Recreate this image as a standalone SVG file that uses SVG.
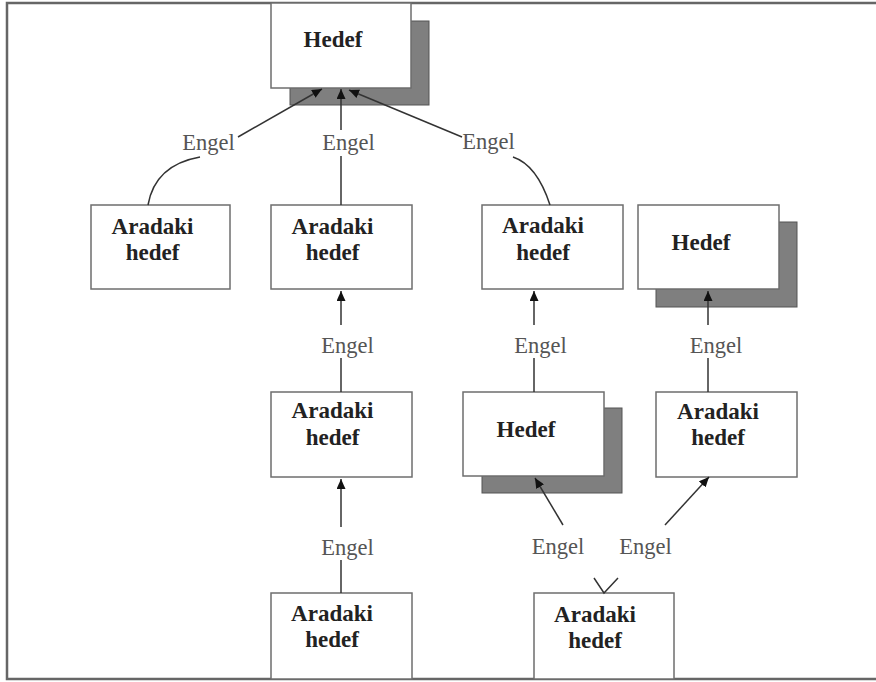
<svg xmlns="http://www.w3.org/2000/svg" width="876" height="682" viewBox="0 0 876 682">
<style>
.box{fill:#fff;stroke:#6e6e6e;stroke-width:1.5}
.shadow{fill:#7f7f7f;stroke:#555;stroke-width:1}
.nt{font-family:"Liberation Serif",serif;font-weight:bold;font-size:23px;fill:#222;text-anchor:middle}
.lbl{font-family:"Liberation Serif",serif;font-size:22.5px;fill:#555;text-anchor:middle}
.c{fill:none;stroke:#333;stroke-width:1.5}
</style>
<defs>
<marker id="ah" markerUnits="userSpaceOnUse" markerWidth="11" markerHeight="9" refX="10" refY="4.5" orient="auto">
<path d="M0,0 L10,4.5 L0,9 z" fill="#111"/>
</marker>
</defs>
<rect x="0" y="0" width="876" height="682" fill="#fff"/>
<g id="frame"><path d="M880,3 H7 V679 H880" fill="none" stroke="#666" stroke-width="2.5"/></g>
<g id="n1"><rect class="shadow" x="290" y="21" width="139" height="84"/><rect class="box" x="271" y="3" width="140" height="85"/><text class="nt" x="333" y="47">Hedef</text></g>
<g id="n2"><rect class="box" x="91" y="205" width="139" height="84"/><text class="nt" x="152.5" y="234">Aradaki</text><text class="nt" x="152.5" y="260">hedef</text></g>
<g id="n3"><rect class="box" x="271" y="205" width="141" height="84"/><text class="nt" x="332.5" y="234">Aradaki</text><text class="nt" x="332.5" y="260">hedef</text></g>
<g id="n4"><rect class="box" x="482" y="205" width="141" height="84"/><text class="nt" x="543" y="233">Aradaki</text><text class="nt" x="543" y="260">hedef</text></g>
<g id="n5"><rect class="shadow" x="656" y="222" width="141" height="85"/><rect class="box" x="638" y="205" width="141" height="84"/><text class="nt" x="701" y="250">Hedef</text></g>
<g id="n6"><rect class="box" x="271" y="392" width="141" height="85"/><text class="nt" x="332.5" y="418">Aradaki</text><text class="nt" x="332.5" y="445">hedef</text></g>
<g id="n7"><rect class="shadow" x="482" y="408" width="140" height="85"/><rect class="box" x="463" y="392" width="141" height="84"/><text class="nt" x="526" y="437">Hedef</text></g>
<g id="n8"><rect class="box" x="656" y="392" width="141" height="85"/><text class="nt" x="718" y="419">Aradaki</text><text class="nt" x="718" y="445">hedef</text></g>
<g id="n9"><rect class="box" x="271" y="593" width="141" height="86"/><text class="nt" x="332" y="621">Aradaki</text><text class="nt" x="332" y="647">hedef</text></g>
<g id="n10"><rect class="box" x="534" y="593" width="140" height="86"/><text class="nt" x="595" y="622">Aradaki</text><text class="nt" x="595" y="648">hedef</text></g>
<g id="connectors">
<path class="c" d="M148,205 Q155,165 200,157"/>
<line class="c" x1="238" y1="137" x2="322" y2="89" marker-end="url(#ah)"/>
<line class="c" x1="341" y1="205" x2="341" y2="156"/>
<line class="c" x1="341" y1="130" x2="341" y2="89" marker-end="url(#ah)"/>
<path class="c" d="M550,205 Q537,165 513,157"/>
<line class="c" x1="462" y1="137" x2="349" y2="90" marker-end="url(#ah)"/>
<line class="c" x1="341" y1="392" x2="341" y2="358"/>
<line class="c" x1="341" y1="325" x2="341" y2="291" marker-end="url(#ah)"/>
<line class="c" x1="534" y1="392" x2="534" y2="358"/>
<line class="c" x1="534" y1="325" x2="534" y2="291" marker-end="url(#ah)"/>
<line class="c" x1="708" y1="392" x2="708" y2="358"/>
<line class="c" x1="708" y1="325" x2="708" y2="291" marker-end="url(#ah)"/>
<line class="c" x1="341" y1="593" x2="341" y2="560"/>
<line class="c" x1="341" y1="527" x2="341" y2="479" marker-end="url(#ah)"/>
<line class="c" x1="563" y1="525" x2="535" y2="478" marker-end="url(#ah)"/>
<line class="c" x1="665" y1="525" x2="709" y2="477" marker-end="url(#ah)"/>
<polyline class="c" points="594,578 604,593 618,578"/>
</g>
<g id="labels">
<text class="lbl" x="208.5" y="150">Engel</text>
<text class="lbl" x="348.5" y="150">Engel</text>
<text class="lbl" x="488.5" y="149">Engel</text>
<text class="lbl" x="347.5" y="353">Engel</text>
<text class="lbl" x="540.5" y="353">Engel</text>
<text class="lbl" x="716" y="353">Engel</text>
<text class="lbl" x="347.5" y="555">Engel</text>
<text class="lbl" x="558" y="554">Engel</text>
<text class="lbl" x="645.5" y="554">Engel</text>
</g>
</svg>
